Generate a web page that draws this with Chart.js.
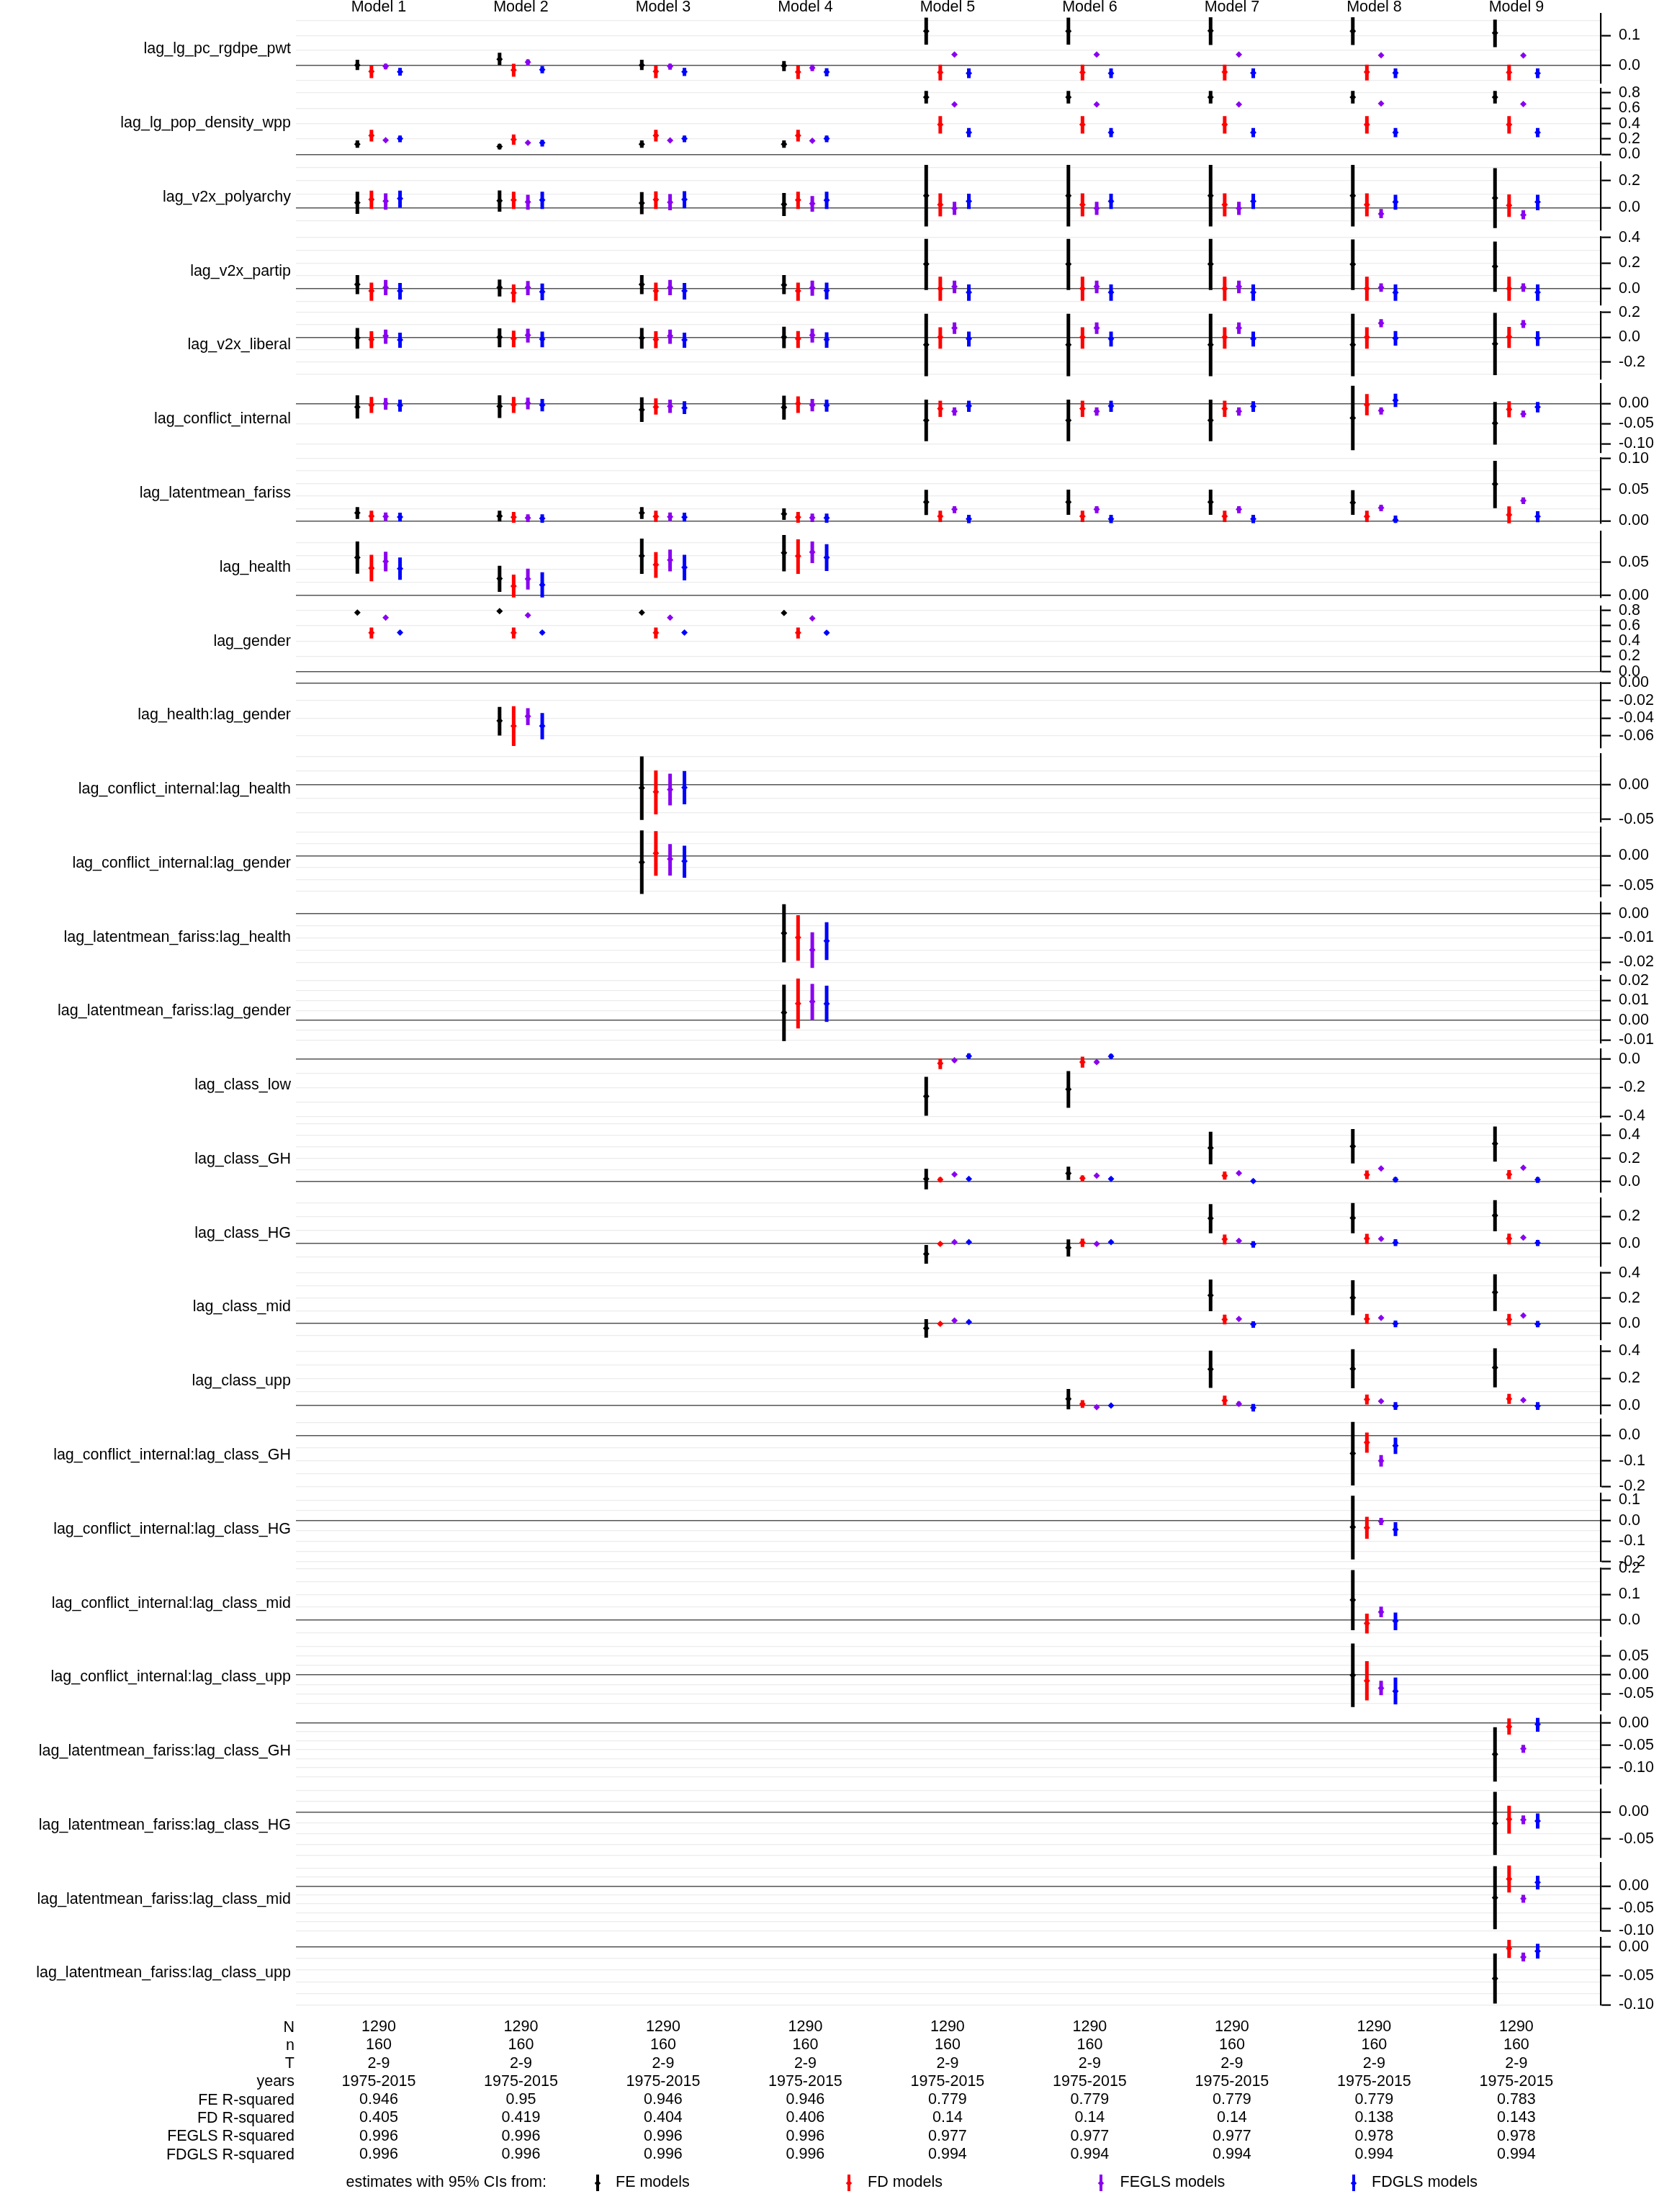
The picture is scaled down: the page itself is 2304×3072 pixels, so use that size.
<!DOCTYPE html>
<html>
<head>
<meta charset="utf-8">
<title>Coefficient plot</title>
<script src="https://cdn.jsdelivr.net/npm/chart.js@4.4.1/dist/chart.umd.min.js"></script>
<style>
  html, body { margin:0; padding:0; background:#ffffff; }
  #wrap { position:relative; width:2304px; height:3072px; overflow:hidden; font-family:"Liberation Sans", Arial, Helvetica, sans-serif; color:#000; background:#fff; }
  #c { position:absolute; left:0; top:0; }
  .vlab { position:absolute; left:0; width:404px; height:30px; line-height:30px; font-size:21.5px; text-align:right; white-space:nowrap; }
  .shead { position:absolute; left:0; width:409px; height:25.3px; line-height:25.3px; font-size:21.5px; text-align:right; white-space:nowrap; }
  .leg { position:absolute; height:30px; line-height:30px; font-size:21.5px; white-space:nowrap; }
  .legbar { position:absolute; width:4px; height:23px; }
  .legdot { position:absolute; width:6px; height:6px; transform:rotate(45deg); }
</style>
</head>
<body>
<div id="wrap"><canvas id="c" width="2304" height="3072"></canvas></div>
<script>
const _ = null;

// ---------------- DATA ----------------
const models = ["Model 1","Model 2","Model 3","Model 4","Model 5","Model 6","Model 7","Model 8","Model 9"];
const variables = [
  "lag_lg_pc_rgdpe_pwt","lag_lg_pop_density_wpp","lag_v2x_polyarchy","lag_v2x_partip","lag_v2x_liberal",
  "lag_conflict_internal","lag_latentmean_fariss","lag_health","lag_gender","lag_health:lag_gender",
  "lag_conflict_internal:lag_health","lag_conflict_internal:lag_gender","lag_latentmean_fariss:lag_health",
  "lag_latentmean_fariss:lag_gender","lag_class_low","lag_class_GH","lag_class_HG","lag_class_mid","lag_class_upp",
  "lag_conflict_internal:lag_class_GH","lag_conflict_internal:lag_class_HG","lag_conflict_internal:lag_class_mid",
  "lag_conflict_internal:lag_class_upp","lag_latentmean_fariss:lag_class_GH","lag_latentmean_fariss:lag_class_HG",
  "lag_latentmean_fariss:lag_class_mid","lag_latentmean_fariss:lag_class_upp"
];
const seriesNames = ["FE models","FD models","FEGLS models","FDGLS models"];

const statLabels = ["N","n","T","years","FE R-squared","FD R-squared","FEGLS R-squared","FDGLS R-squared"];
const statN      = ["1290","1290","1290","1290","1290","1290","1290","1290","1290"];
const statSmallN = ["160","160","160","160","160","160","160","160","160"];
const statT      = ["2-9","2-9","2-9","2-9","2-9","2-9","2-9","2-9","2-9"];
const statYears  = ["1975-2015","1975-2015","1975-2015","1975-2015","1975-2015","1975-2015","1975-2015","1975-2015","1975-2015"];
const statFE     = ["0.946","0.95","0.946","0.946","0.779","0.779","0.779","0.779","0.783"];
const statFD     = ["0.405","0.419","0.404","0.406","0.14","0.14","0.14","0.138","0.143"];
const statFEGLS  = ["0.996","0.996","0.996","0.996","0.977","0.977","0.977","0.978","0.978"];
const statFDGLS  = ["0.996","0.996","0.996","0.996","0.994","0.994","0.994","0.994","0.994"];

// axis ranges per variable row
const yMin = [-0.0593,0,-0.17,-0.127,-0.338,-0.1223,-0.0037,-0.0033,0,-0.0741,-0.0538,-0.0695,-0.02338,-0.01164,
              -0.4116,-0.091,-0.1655,-0.1341,-0.0608,-0.2,-0.2,-0.0627,-0.0932,-0.1361,-0.0836,-0.1,-0.1];
const yMax = [0.1713,0.86,0.34,0.403,0.205,0.0499,0.1008,0.0963,0.8575,0,0.0443,0.0472,0.00477,0.02255,
              0.0675,0.5003,0.3363,0.4052,0.437,0.0621,0.1305,0.2,0.0892,0.0166,0.0412,0.0515,0.0162];
const yGridStep = [0.05,0.2,0.1,0.1,0.1,0.05,0.02,0.02,0.2,0.02,0.02,0.02,0.005,0.005,
                   0.1,0.1,0.1,0.1,0.1,0.05,0.05,0.05,0.025,0.02,0.02,0.02,0.02];
const yTickLabels = [
  ["0.1","0.0"],["0.8","0.6","0.4","0.2","0.0"],["0.2","0.0"],["0.4","0.2","0.0"],["0.2","0.0","-0.2"],
  ["0.00","-0.05","-0.10"],["0.10","0.05","0.00"],["0.05","0.00"],["0.8","0.6","0.4","0.2","0.0"],
  ["0.00","-0.02","-0.04","-0.06"],["0.00","-0.05"],["0.00","-0.05"],["0.00","-0.01","-0.02"],
  ["0.02","0.01","0.00","-0.01"],["0.0","-0.2","-0.4"],["0.4","0.2","0.0"],["0.2","0.0"],["0.4","0.2","0.0"],
  ["0.4","0.2","0.0"],["0.0","-0.1","-0.2"],["0.1","0.0","-0.1","-0.2"],["0.2","0.1","0.0"],
  ["0.05","0.00","-0.05"],["0.00","-0.05","-0.10"],["0.00","-0.05"],["0.00","-0.05","-0.10"],["0.00","-0.05","-0.10"]
];

// estimates [estimate, lower 95%, upper 95%] per variable row x model
const fe = [
  [[.001,-.015,.019],[.021,.001,.042],[.001,-.015,.019],[-.001,-.019,.015],[.114,.069,.159],[.114,.069,.159],[.115,.068,.160],[.114,.068,.160],[.108,.061,.152]],
  [[.133,.086,.181],[.103,.065,.138],[.133,.086,.181],[.133,.086,.181],[.744,.663,.826],[.744,.663,.826],[.744,.663,.826],[.744,.663,.826],[.744,.663,.826]],
  [[.037,-.047,.118],[.052,-.030,.128],[.034,-.049,.116],[.025,-.062,.109],[.089,-.141,.318],[.089,-.141,.318],[.089,-.141,.318],[.089,-.141,.318],[.072,-.153,.294]],
  [[.033,-.044,.106],[.008,-.062,.070],[.033,-.044,.106],[.028,-.044,.106],[.192,-.011,.388],[.192,-.011,.388],[.192,-.011,.388],[.190,-.011,.385],[.173,-.026,.367]],
  [[-.005,-.093,.074],[0,-.080,.072],[-.005,-.093,.074],[0,-.088,.085],[-.061,-.314,.189],[-.061,-.314,.189],[-.061,-.314,.189],[-.061,-.314,.189],[-.053,-.306,.197]],
  [[-.0083,-.0372,.0205],[-.0067,-.0356,.0205],[-.0149,-.0455,.0156],[-.0092,-.0397,.0198],[-.0414,-.0934,.0099],[-.0414,-.0934,.0099],[-.0414,-.0934,.0099],[-.0356,-.1157,.0444],[-.0487,-.1016,.004]],
  [[.0129,.0032,.0221],[.0078,-.001,.0164],[.0129,.0032,.0221],[.0113,.0017,.0202],[.0302,.0094,.0498],[.0302,.0098,.0501],[.0302,.0098,.0501],[.0294,.0098,.0493],[.059,.0205,.0962]],
  [[.0574,.0329,.0814],[.0254,.0055,.0449],[.0599,.0325,.0859],[.0645,.0364,.0913],_,_,_,_,_],
  [[.771,.763,.779],[.792,.784,.80],[.771,.763,.779],[.767,.759,.775],_,_,_,_,_],
  [_,[-.0431,-.0599,-.0273],_,_,_,_,_,_,_],
  [_,_,[-.0048,-.0509,.0405],_,_,_,_,_,_],
  [_,_,[-.0111,-.0645,.0423],_,_,_,_,_,_],
  [_,_,_,[-.0081,-.0201,.0038],_,_,_,_,_],
  [_,_,_,[.0039,-.0105,.018],_,_,_,_,_],
  [_,_,_,_,[-.26,-.396,-.125],[-.211,-.341,-.084],_,_,_],
  [_,_,_,_,[.024,-.066,.111],[.072,.015,.129],[.29,.15,.429],[.304,.157,.452],[.327,.173,.475]],
  [_,_,_,_,[-.077,-.149,-.01],[-.031,-.095,.031],[.185,.076,.29],[.188,.076,.298],[.207,.09,.319]],
  [_,_,_,_,[-.041,-.116,.032],_,[.221,.095,.347],[.202,.063,.342],[.245,.097,.389]],
  [_,_,_,_,_,[.049,-.028,.121],[.267,.129,.403],[.269,.126,.413],[.279,.133,.42]],
  [_,_,_,_,_,_,_,[-.071,-.196,.052],_],
  [_,_,_,_,_,_,_,[-.032,-.19,.121],_],
  [_,_,_,_,_,_,_,[.078,-.04,.194],_],
  [_,_,_,_,_,_,_,[-.001,-.085,.083],_],
  [_,_,_,_,_,_,_,_,[-.0703,-.1316,-.0098]],
  [_,_,_,_,_,_,_,_,[-.0211,-.0798,.0368]],
  [_,_,_,_,_,_,_,_,[-.0263,-.0968,.0442]],
  [_,_,_,_,_,_,_,_,[-.0546,-.0974,-.0115]]
];
const fd = [
  [[-.020,-.042,0],[-.015,-.037,.0055],[-.020,-.042,0],[-.022,-.045,0],[-.023,-.05,.003],[-.023,-.05,.003],[-.022,-.05,.003],[-.022,-.05,.003],[-.023,-.05,.003]],
  [[.246,.168,.319],[.193,.125,.258],[.246,.168,.319],[.246,.168,.319],[.387,.271,.499],[.387,.271,.499],[.387,.271,.499],[.387,.271,.499],[.387,.271,.499]],
  [[.061,-.010,.126],[.057,-.010,.118],[.059,-.010,.121],[.057,-.010,.118],[.022,-.065,.106],[.022,-.065,.106],[.022,-.065,.106],[.022,-.065,.106],[.017,-.069,.098]],
  [[-.018,-.096,.046],[-.034,-.109,.033],[-.018,-.096,.046],[-.018,-.096,.046],[0,-.096,.093],[0,-.096,.093],[0,-.096,.093],[0,-.096,.093],[0,-.096,.093]],
  [[-.019,-.088,.048],[-.011,-.080,.053],[-.019,-.088,.048],[-.013,-.086,.05],[0,-.093,.080],[0,-.093,.080],[0,-.093,.080],[0,-.093,.080],[.003,-.086,.083]],
  [[-.0034,-.0232,.0164],[-.0025,-.0232,.0164],[-.0083,-.0273,.0131],[0,-.0232,.018],[-.0124,-.0331,.0074],[-.0124,-.0331,.0074],[-.0124,-.0331,.0074],[-.0025,-.029,.0239],[-.0142,-.034,.0058]],
  [[.0078,-.0014,.0164],[.006,-.0029,.0144],[.0071,-.0014,.0164],[.006,-.0029,.0144],[.0075,-.0017,.0164],[.0075,-.0017,.0164],[.0075,-.0017,.0164],[.0071,-.0017,.0164],[.0098,-.0044,.0233]],
  [[.0414,.0215,.0614],[.014,-.003,.0315],[.0464,.0265,.0654],[.0595,.0325,.0849],_,_,_,_,_],
  [[.507,.433,.576],[.507,.433,.576],[.507,.433,.576],[.507,.433,.576],_,_,_,_,_],
  [_,[-.0491,-.0716,-.0266],_,_,_,_,_,_,_],
  [_,_,[-.0105,-.0428,.0204],_,_,_,_,_,_],
  [_,_,[.0039,-.0339,.0412],_,_,_,_,_,_],
  [_,_,_,[-.0099,-.0194,-.0007],_,_,_,_,_],
  [_,_,_,[.0085,-.0041,.0211],_,_,_,_,_],
  [_,_,_,_,[-.03,-.07,.004],[-.021,-.06,.016],_,_,_],
  [_,_,_,_,[.017,-.003,.037],[.03,.006,.054],[.051,.017,.088],[.059,.023,.097],[.063,.023,.10]],
  [_,_,_,_,[-.002,-.014,.010],[.008,-.025,.036],[.032,-.007,.066],[.037,-.002,.071],[.037,-.007,.073]],
  [_,_,_,_,[-.005,-.017,.007],_,[.029,-.01,.068],[.034,-.005,.073],[.029,-.016,.073]],
  [_,_,_,_,_,[.011,-.018,.039],[.037,0,.072],[.044,.007,.08],[.049,.012,.085]],
  [_,_,_,_,_,_,_,[-.028,-.068,.0104],_],
  [_,_,_,_,_,_,_,[-.035,-.089,.018],_],
  [_,_,_,_,_,_,_,[-.013,-.052,.025],_],
  [_,_,_,_,_,_,_,[-.0156,-.0675,.0365],_],
  [_,_,_,_,_,_,_,_,[-.0085,-.0263,.01]],
  [_,_,_,_,_,_,_,_,[-.0136,-.0402,.0113]],
  [_,_,_,_,_,_,_,_,[.0158,-.0145,.0461]],
  [_,_,_,_,_,_,_,_,[-.003,-.0192,.0121]]
];
const fegls = [
  [[-.003,-.013,.0055],[.011,0,.02],[-.003,-.014,.006],[-.008,-.019,.003],[.036,.032,.040],[.036,.032,.040],[.036,.032,.040],[.034,.030,.038],[.033,.029,.037]],
  [[.185,.175,.195],[.151,.141,.161],[.181,.171,.191],[.176,.166,.186],[.65,.64,.66],[.65,.64,.66],[.65,.64,.66],[.663,.653,.673],[.654,.644,.664]],
  [[.049,-.015,.106],[.042,-.015,.096],[.039,-.020,.101],[.030,-.030,.086],[-.005,-.054,.044],[-.005,-.054,.044],[-.005,-.054,.044],[-.047,-.079,-.010],[-.054,-.087,-.020]],
  [[.008,-.052,.067],[.008,-.052,.059],[.008,-.052,.067],[.005,-.056,.062],[.015,-.037,.062],[.015,-.037,.062],[.015,-.037,.062],[.008,-.026,.041],[.01,-.026,.041]],
  [[.010,-.053,.061],[.016,-.043,.069],[.01,-.053,.061],[.016,-.043,.069],[.074,.027,.119],[.074,.027,.119],[.074,.027,.119],[.114,.080,.146],[.106,.075,.139]],
  [[0,-.0149,.0138],[.0008,-.0141,.0147],[-.0067,-.0232,.0099],[-.0034,-.019,.0115],[-.0191,-.0299,-.0092],[-.0191,-.0299,-.0092],[-.0191,-.0299,-.0092],[-.0174,-.0273,-.0092],[-.0257,-.034,-.0175]],
  [[.0071,.0002,.0136],[.0048,-.0017,.0106],[.0067,.0002,.0136],[.0052,-.0017,.0117],[.0187,.0124,.0236],[.0187,.0124,.0236],[.0187,.0124,.0236],[.021,.0156,.0259],[.0325,.0271,.0378]],
  [[.0514,.0364,.0659],[.025,.009,.0404],[.0534,.0364,.0693],[.0654,.0489,.0814],_,_,_,_,_],
  [[.707,.697,.717],[.737,.727,.747],[.707,.697,.717],[.697,.687,.707],_,_,_,_,_],
  [_,[-.0379,-.048,-.0288],_,_,_,_,_,_,_],
  [_,_,[-.0072,-.03,.0157],_,_,_,_,_,_],
  [_,_,[-.0056,-.0334,.0195],_,_,_,_,_,_],
  [_,_,_,[-.015,-.0224,-.0077],_,_,_,_,_],
  [_,_,_,[.0095,.0002,.0184],_,_,_,_,_],
  [_,_,_,_,[-.009,-.022,.004],[-.021,-.034,-.008],_,_,_],
  [_,_,_,_,[.063,.053,.073],[.051,.041,.061],[.074,.064,.084],[.114,.104,.124],[.12,.11,.13]],
  [_,_,_,_,[.011,.003,.019],[-.002,-.01,.006],[.02,.01,.03],[.034,.024,.044],[.044,.034,.054]],
  [_,_,_,_,[.02,.012,.028],_,[.034,.024,.044],[.042,.032,.052],[.061,.051,.071]],
  [_,_,_,_,_,[-.013,-.021,-.005],[.012,-.004,.028],[.031,.021,.041],[.039,.029,.049]],
  [_,_,_,_,_,_,_,[-.1,-.122,-.077],_],
  [_,_,_,_,_,_,_,[-.005,-.022,.013],_],
  [_,_,_,_,_,_,_,[.031,.011,.052],_],
  [_,_,_,_,_,_,_,[-.035,-.0536,-.0156],_],
  [_,_,_,_,_,_,_,_,[-.0579,-.0671,-.0494]],
  [_,_,_,_,_,_,_,_,[-.0146,-.0229,-.0065]],
  [_,_,_,_,_,_,_,_,[-.0282,-.0374,-.0197]],
  [_,_,_,_,_,_,_,_,[-.0177,-.0252,-.01]]
];
const fdgls = [
  [[-.021,-.034,-.0077],[-.014,-.026,-.002],[-.021,-.035,-.008],[-.022,-.036,-.009],[-.026,-.042,-.01],[-.026,-.042,-.01],[-.025,-.042,-.01],[-.025,-.042,-.01],[-.026,-.042,-.01]],
  [[.206,.159,.246],[.151,.103,.189],[.206,.159,.246],[.206,.159,.246],[.284,.224,.344],[.284,.224,.344],[.284,.224,.344],[.284,.224,.344],[.284,.224,.344]],
  [[.067,0,.126],[.057,-.010,.118],[.061,-.005,.123],[.055,-.010,.118],[.047,-.010,.104],[.047,-.010,.104],[.047,-.010,.104],[.042,-.015,.096],[.042,-.020,.096]],
  [[-.018,-.086,.044],[-.026,-.091,.039],[-.018,-.086,.044],[-.016,-.084,.046],[-.029,-.096,.033],[-.029,-.096,.033],[-.029,-.096,.033],[-.031,-.096,.033],[-.029,-.096,.033]],
  [[-.021,-.085,.037],[-.016,-.080,.045],[-.021,-.085,.037],[-.019,-.085,.040],[-.013,-.075,.045],[-.013,-.075,.045],[-.013,-.075,.045],[-.008,-.068,.05],[-.008,-.07,.048]],
  [[-.0043,-.020,.0099],[-.0034,-.019,.0115],[-.0108,-.0257,.0058],[-.0043,-.020,.0099],[-.0059,-.0207,.0074],[-.0059,-.0207,.0074],[-.0067,-.0207,.0058],[.0081,-.0083,.0246],[-.0083,-.0216,.004]],
  [[.0063,-.001,.0132],[.004,-.0029,.0106],[.006,-.001,.0132],[.0048,-.0029,.0117],[.0032,-.0037,.0098],[.0032,-.0037,.0098],[.0032,-.0037,.0098],[.0014,-.0033,.0086],[.0071,-.0021,.0156]],
  [[.0404,.0235,.0574],[.016,-.003,.035],[.0424,.0229,.0614],[.0574,.0369,.0774],_,_,_,_,_],
  [[.511,.49,.535],[.511,.49,.535],[.511,.49,.535],[.507,.486,.531],_,_,_,_,_],
  [_,[-.0491,-.0641,-.0344],_,_,_,_,_,_,_],
  [_,_,[-.0043,-.0285,.0195],_,_,_,_,_,_],
  [_,_,[-.0094,-.0373,.0167],_,_,_,_,_,_],
  [_,_,_,[-.0113,-.0191,-.0036],_,_,_,_,_],
  [_,_,_,[.0084,-.0008,.0175],_,_,_,_,_],
  [_,_,_,_,[.021,.003,.039],[.019,.003,.035],_,_,_],
  [_,_,_,_,[.024,.014,.034],[.024,.014,.034],[.006,-.009,.021],[.017,-.006,.04],[.017,-.01,.04]],
  [_,_,_,_,[.011,.003,.019],[.011,.003,.019],[-.005,-.031,.017],[.007,-.019,.032],[.005,-.019,.027]],
  [_,_,_,_,[.009,.001,.017],_,[-.01,-.037,.015],[-.003,-.032,.021],[-.008,-.032,.018]],
  [_,_,_,_,_,[0,-.008,.008],[-.017,-.044,.012],[-.005,-.032,.024],[-.005,-.032,.024]],
  [_,_,_,_,_,_,_,[-.041,-.073,-.009],_],
  [_,_,_,_,_,_,_,[-.044,-.076,-.008],_],
  [_,_,_,_,_,_,_,[-.004,-.04,.029],_],
  [_,_,_,_,_,_,_,[-.043,-.078,-.007],_],
  [_,_,_,_,_,_,_,_,[-.0032,-.0197,.0113]],
  [_,_,_,_,_,_,_,_,[-.0169,-.031,-.0028]],
  [_,_,_,_,_,_,_,_,[.0079,-.0079,.0231]],
  [_,_,_,_,_,_,_,_,[-.0075,-.0202,.0051]]
];

// ---------------- LAYOUT / STYLE ----------------
const FONT = '"Liberation Sans", Arial, Helvetica, sans-serif';
const FS = 21.5;
const panelTop    = [19.3,122.6,225,329.2,433,532.6,636,738.4,841.7,948.2,1046.9,1149.3,1252.6,1355,1457.4,1560.3,1663.6,1766.9,1869.3,1971.2,2074.5,2178.4,2279.2,2382.4,2485.3,2587.3,2690.6];
const panelBottom = [115.7,214.4,320,423.3,526.6,629,726.7,830,932.6,1039,1141.5,1245.7,1347.6,1449,1552.5,1655.8,1758.2,1861,1963.4,2064.4,2168.7,2272.2,2375.1,2477.1,2579.2,2681.2,2784.5];
const seriesColors = ['#000000','#ff0000','#8a00f0','#0000ff'];
const seriesOffset = [-0.15,-0.051,0.049,0.15];
const seriesData = [fe, fd, fegls, fdgls];
const X_MIN = 0.418, X_MAX = 9.593;

Chart.defaults.font.family = FONT;
Chart.defaults.color = '#000';

const datasets = [];
seriesData.forEach((arr, s) => {
  arr.forEach((row, r) => {
    const ci = [], pts = [];
    row.forEach((v, m) => {
      if (!v) return;
      const x = m + 1 + seriesOffset[s];
      ci.push({x: x, y: v[1]}, {x: x, y: v[2]}, {x: x, y: null});
      pts.push({x: x, y: v[0]});
    });
    if (!pts.length) return;
    datasets.push({
      label: seriesNames[s] + ' 95% CI', type: 'line', data: ci, xAxisID: 'x', yAxisID: 'y' + r,
      borderColor: seriesColors[s], borderWidth: 5, borderCapStyle: 'butt',
      pointRadius: 0, pointHoverRadius: 0, pointHitRadius: 0, spanGaps: false, fill: false, tension: 0, order: 2
    });
    datasets.push({
      label: seriesNames[s], type: 'line', data: pts, xAxisID: 'x', yAxisID: 'y' + r, showLine: false,
      pointStyle: 'rectRot', pointRadius: 4.5, pointHoverRadius: 4.5, pointBackgroundColor: seriesColors[s],
      pointBorderColor: seriesColors[s], pointBorderWidth: 0, order: 1
    });
  });
});

function zeroPad(s) { s.paddingLeft = 0; s.paddingRight = 0; s.paddingTop = 0; s.paddingBottom = 0; }

const scales = {
  x: {
    type: 'linear', position: 'top', min: X_MIN, max: X_MAX,
    grid: {display: false, drawTicks: false, drawOnChartArea: false}, border: {display: false},
    afterBuildTicks: s => { s.ticks = models.map((m, i) => ({value: i + 1, lab: m})); },
    afterFit: s => { s.height = 19.3; zeroPad(s); },
    ticks: {autoSkip: false, maxRotation: 0, minRotation: 0, padding: -1.4, color: '#000',
            font: {family: FONT, size: FS, lineHeight: 1}, callback: (v, i, t) => t[i].lab}
  },
  xTable: {
    type: 'linear', position: 'bottom', min: X_MIN, max: X_MAX,
    grid: {display: false, drawTicks: false, drawOnChartArea: false}, border: {display: false},
    afterBuildTicks: s => { s.ticks = models.map((m, i) => ({value: i + 1,
      lab: [statN[i], statSmallN[i], statT[i], statYears[i], statFE[i], statFD[i], statFEGLS[i], statFDGLS[i]]})); },
    afterFit: s => { s.height = 3072 - 2784.5; zeroPad(s); },
    ticks: {autoSkip: false, maxRotation: 0, minRotation: 0, padding: 17.85, color: '#000',
            font: {family: FONT, size: FS, lineHeight: 1.1767}, callback: (v, i, t) => t[i].lab}
  }
};

variables.forEach((name, r) => {
  scales['y' + r] = {
    type: 'linear', position: 'right', stack: 'rows', stackWeight: panelBottom[r] - panelTop[r],
    min: yMin[r], max: yMax[r],
    afterBuildTicks: s => {
      const step = yGridStep[r];
      const map = new Map();
      const k0 = Math.ceil(yMin[r] / step - 1e-9), k1 = Math.floor(yMax[r] / step + 1e-9);
      for (let k = k0; k <= k1; k++) {
        const v = +(k * step).toFixed(6);
        map.set(v, {value: v, grid: true, lab: ''});
      }
      yTickLabels[r].forEach(str => {
        const v = parseFloat(str);
        const t = map.get(v) || {value: v, grid: false, lab: ''};
        t.lab = str;
        map.set(v, t);
      });
      s.ticks = Array.from(map.values()).sort((a, b) => a.value - b.value);
    },
    afterFit: s => { s.width = 81; zeroPad(s); },
    ticks: {autoSkip: false, padding: 11, color: '#000', font: {family: FONT, size: FS},
            callback: (v, i, t) => t[i].lab},
    grid: {
      drawOnChartArea: true, drawTicks: true, tickLength: 14, tickWidth: 2.2,
      color: c => (!c.tick || !c.tick.grid) ? 'rgba(0,0,0,0)' : (c.tick.value === 0 ? '#555555' : '#ececec'),
      lineWidth: c => (c.tick && c.tick.value === 0) ? 1.4 : 1.2,
      tickColor: c => (c.tick && c.tick.lab) ? '#000000' : 'rgba(0,0,0,0)'
    },
    border: {display: true, color: '#000000', width: 2.2}
  };
  if (r < variables.length - 1) {
    scales['s' + r] = {
      type: 'linear', position: 'right', stack: 'rows', stackWeight: panelTop[r + 1] - panelBottom[r],
      min: 0, max: 1, ticks: {display: false}, grid: {display: false, drawTicks: false}, border: {display: false},
      afterFit: s => { s.width = 81; zeroPad(s); }
    };
  }
});

const chart = new Chart(document.getElementById('c'), {
  type: 'line',
  data: {datasets: datasets},
  options: {
    responsive: false, animation: false, devicePixelRatio: 1, events: [],
    layout: {padding: {left: 411, right: 0, top: 0, bottom: 0}},
    plugins: {legend: {display: false}, tooltip: {enabled: false}, title: {display: false}},
    scales: scales
  }
});

// ---------------- TEXT OVERLAYS ----------------
const wrap = document.getElementById('wrap');
variables.forEach((name, r) => {
  const d = document.createElement('div');
  d.className = 'vlab';
  d.textContent = name;
  d.style.top = (67.4 + 102.77 * r - 15) + 'px';
  wrap.appendChild(d);
});
statLabels.forEach((name, i) => {
  const d = document.createElement('div');
  d.className = 'shead';
  d.textContent = name;
  d.style.top = (2815.2 + 25.3 * i - 12.65) + 'px';
  wrap.appendChild(d);
});
const legY = 3029.5;
const t0 = document.createElement('div');
t0.className = 'leg'; t0.textContent = 'estimates with 95% CIs from:';
t0.style.left = '480.5px'; t0.style.top = (legY - 15) + 'px';
wrap.appendChild(t0);
const legIconX = [830, 1179, 1528.6, 1879.6];
const legTextX = [855, 1205, 1555.5, 1905];
seriesNames.forEach((name, s) => {
  const bar = document.createElement('div');
  bar.className = 'legbar';
  bar.style.background = seriesColors[s];
  bar.style.left = (legIconX[s] - 2) + 'px';
  bar.style.top = (3031.5 - 11.5) + 'px';
  wrap.appendChild(bar);
  const dot = document.createElement('div');
  dot.className = 'legdot';
  dot.style.background = seriesColors[s];
  dot.style.left = (legIconX[s] - 3) + 'px';
  dot.style.top = (3031.5 - 3) + 'px';
  wrap.appendChild(dot);
  const t = document.createElement('div');
  t.className = 'leg';
  t.textContent = name;
  t.style.left = legTextX[s] + 'px';
  t.style.top = (legY - 15) + 'px';
  wrap.appendChild(t);
});
</script>
</body>
</html>
